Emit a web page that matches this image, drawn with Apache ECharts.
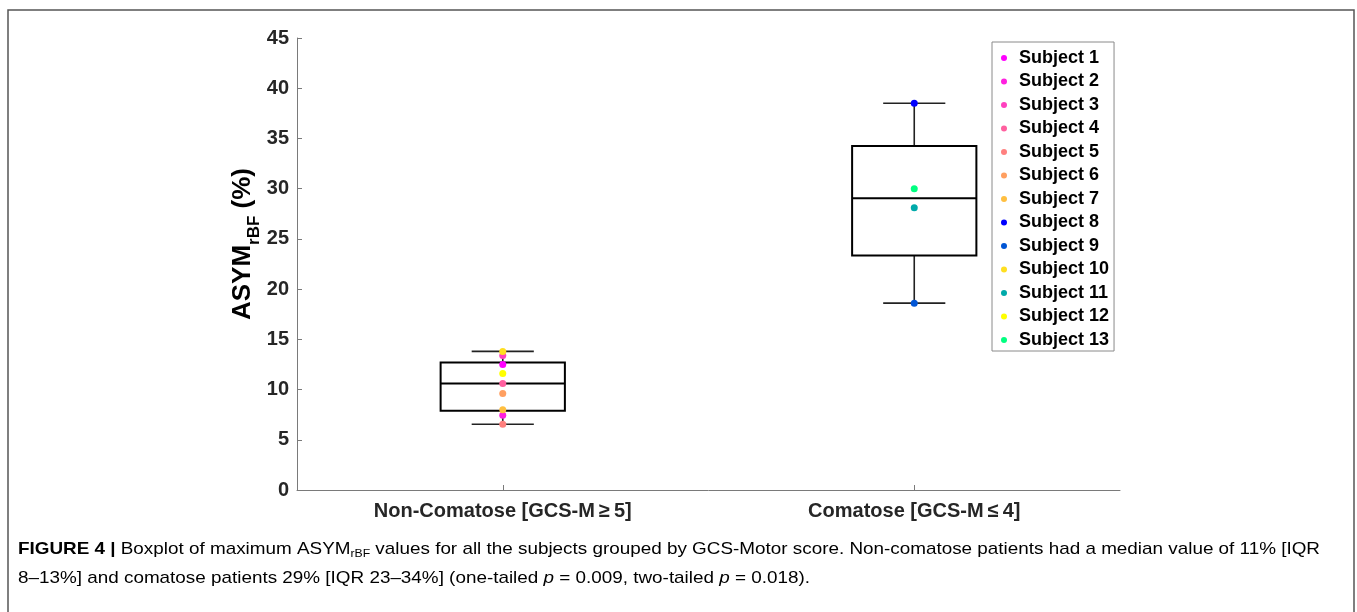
<!DOCTYPE html>
<html><head><meta charset="utf-8">
<script src="https://cdn.jsdelivr.net/npm/echarts@6/dist/echarts.min.js"></script>
<style>html,body{margin:0;padding:0;background:#fff}#c{width:1357px;height:612px}</style>
</head><body><div id="c"></div><script>
// ---- data ----
const categories = ['Non-Comatose [GCS-M\u2009\u2265\u20095]', 'Comatose [GCS-M\u2009\u2264\u20094]'];
const yTicks = [0, 5, 10, 15, 20, 25, 30, 35, 40, 45];
const subjects = ['Subject 1','Subject 2','Subject 3','Subject 4','Subject 5','Subject 6','Subject 7',
  'Subject 8','Subject 9','Subject 10','Subject 11','Subject 12','Subject 13'];
const subjectGroup  = [0, 0, 0, 0, 0, 0, 0, 1, 1, 0, 1, 0, 1];
const subjectValues = [12.5, 7.45, 13.4, 10.6, 6.55, 9.6, 8.0, 38.5, 18.6, 13.8, 28.1, 11.6, 30.0];
const boxMin    = [6.55, 18.6];
const boxQ1     = [7.9, 23.35];
const boxMedian = [10.6, 29.05];
const boxQ3     = [12.7, 34.25];
const boxMax    = [13.8, 38.5];
// ---- palette ----
const subjectColors = ['#FF00FF','#FF20DF','#FF40BF','#FF609F','#FF807F','#FF9F60','#FFBF40',
  '#0000FF','#0055D5','#FFDF20','#00AAAA','#FFFF00','#00FF80'];

const chart = echarts.init(document.getElementById('c'), null, {renderer: 'canvas'});

const boxData = categories.map((c, i) => [i, boxMin[i], boxQ1[i], boxMedian[i], boxQ3[i], boxMax[i]]);

const series = [{
  type: 'custom',
  z: 1,
  data: boxData,
  encode: {x: 0, y: [1, 2, 3, 4, 5]},
  renderItem(params, api) {
    const c = api.value(0);
    const pMin = api.coord([c, api.value(1)]);
    const pQ1 = api.coord([c, api.value(2)]);
    const pMed = api.coord([c, api.value(3)]);
    const pQ3 = api.coord([c, api.value(4)]);
    const pMax = api.coord([c, api.value(5)]);
    const w = api.size([1, 0])[0] * 0.302;
    const x = pMed[0];
    const ls = {stroke: '#000', lineWidth: 2, fill: null};
    const ws = {stroke: '#222', lineWidth: 1.6};
    return {type: 'group', children: [
      {type: 'line', shape: {x1: x, y1: pQ3[1], x2: x, y2: pMax[1]}, style: ws},
      {type: 'line', shape: {x1: x, y1: pQ1[1], x2: x, y2: pMin[1]}, style: ws},
      {type: 'line', shape: {x1: x - w / 4, y1: pMax[1], x2: x + w / 4, y2: pMax[1]}, style: ws},
      {type: 'line', shape: {x1: x - w / 4, y1: pMin[1], x2: x + w / 4, y2: pMin[1]}, style: ws},
      {type: 'rect', shape: {x: x - w / 2, y: pQ3[1], width: w, height: pQ1[1] - pQ3[1]}, style: {stroke: '#000', lineWidth: 2, fill: 'none'}},
      {type: 'line', shape: {x1: x - w / 2, y1: pMed[1], x2: x + w / 2, y2: pMed[1]}, style: ls}
    ]};
  }
}];
subjects.forEach((s, i) => {
  series.push({
    type: 'scatter', name: s, z: 5,
    symbol: 'circle', symbolSize: 7,
    itemStyle: {color: subjectColors[i], opacity: 1},
    data: [[subjectGroup[i], subjectValues[i]]]
  });
});

// caption scaling (condensed look)
const capFont = '"Liberation Sans", Arial, sans-serif';
const CF = 17;
const ctx = document.createElement('canvas').getContext('2d');
ctx.font = 'bold ' + CF + 'px ' + capFont;
let wB = ctx.measureText('FIGURE 4 |').width;
ctx.font = CF + 'px ' + capFont;
let wN = ctx.measureText(' Boxplot of maximum ASYM values for all the subjects grouped by GCS-Motor score. Non-comatose patients had a median value of 11% [IQR').width;
ctx.font = '11px ' + capFont;
let wS = ctx.measureText('rBF').width;
const capScale = 1302 / (wB + wN + wS);

const capRich = {
  b: {fontFamily: capFont, fontSize: CF, fontWeight: 'bold', color: '#000', lineHeight: 20, verticalAlign: 'middle'},
  n: {fontFamily: capFont, fontSize: CF, color: '#222', lineHeight: 20, verticalAlign: 'middle'},
  i: {fontFamily: capFont, fontSize: CF, fontStyle: 'italic', color: '#222', lineHeight: 20, verticalAlign: 'middle'},
  s: {fontFamily: capFont, fontSize: 11, color: '#222', lineHeight: 8, verticalAlign: 'bottom'}
};

const option = {
  animation: false,
  backgroundColor: '#fff',
  grid: {left: 297, right: 237, top: 38, bottom: 122, containLabel: false},
  xAxis: {
    type: 'category', data: categories, boundaryGap: true,
    axisLine: {lineStyle: {color: '#7a7a7a', width: 1}},
    axisTick: {show: true, inside: true, alignWithLabel: true, length: 5, lineStyle: {color: '#7a7a7a'}},
    axisLabel: {fontFamily: 'Liberation Sans, Arial, sans-serif', fontWeight: 'bold', fontSize: 20, color: '#262626', margin: 11}
  },
  yAxis: {
    type: 'value', min: yTicks[0], max: yTicks[yTicks.length - 1], interval: 5,
    splitLine: {show: false},
    axisLine: {show: true, lineStyle: {color: '#7a7a7a', width: 1}},
    axisTick: {show: true, inside: true, length: 5, lineStyle: {color: '#7a7a7a'}},
    axisLabel: {fontFamily: 'Liberation Sans, Arial, sans-serif', fontWeight: 'bold', fontSize: 20, color: '#262626', margin: 8}
  },
  legend: {
    data: subjects, orient: 'vertical', left: 992, top: 42,
    icon: 'circle', itemWidth: 20, itemHeight: 6, itemGap: 5.5,
    padding: [7, 5, 2, 9], selectedMode: false,
    borderColor: '#8a8a8a', borderWidth: 1, backgroundColor: '#fff',
    textStyle: {fontFamily: 'Liberation Sans, Arial, sans-serif', fontWeight: 'bold', fontSize: 18, color: '#000', lineHeight: 18}
  },
  graphic: [
    {type: 'rect', z: -10, shape: {x: 8, y: 10, width: 1346, height: 640}, style: {fill: 'none', stroke: '#555', lineWidth: 1.5}},
    {type: 'text', x: 243, y: 244, rotation: Math.PI / 2,
      style: {text: '{a|ASYM}{s|rBF}{a| (%)}', align: 'center', verticalAlign: 'middle',
        rich: {
          a: {fontFamily: 'Liberation Sans, Arial, sans-serif', fontWeight: 'bold', fontSize: 26, color: '#262626', lineHeight: 40, verticalAlign: 'middle'},
          s: {fontFamily: 'Liberation Sans, Arial, sans-serif', fontWeight: 'bold', fontSize: 17, color: '#262626', lineHeight: 4, verticalAlign: 'bottom'}
        }}},
    {type: 'text', x: 18, y: 549, scaleX: capScale,
      style: {text: '{b|FIGURE 4 |}{n| Boxplot of maximum ASYM}{s|rBF}{n| values for all the subjects grouped by GCS-Motor score. Non-comatose patients had a median value of 11% [IQR}',
        align: 'left', verticalAlign: 'middle', rich: capRich}},
    {type: 'text', x: 18, y: 578, scaleX: capScale,
      style: {text: '{n|8\u201313%] and comatose patients 29% [IQR 23\u201334%] (one-tailed }{i|p}{n| = 0.009, two-tailed }{i|p}{n| = 0.018).}',
        align: 'left', verticalAlign: 'middle', rich: capRich}}
  ],
  series: series
};
chart.setOption(option);
</script></body></html>
